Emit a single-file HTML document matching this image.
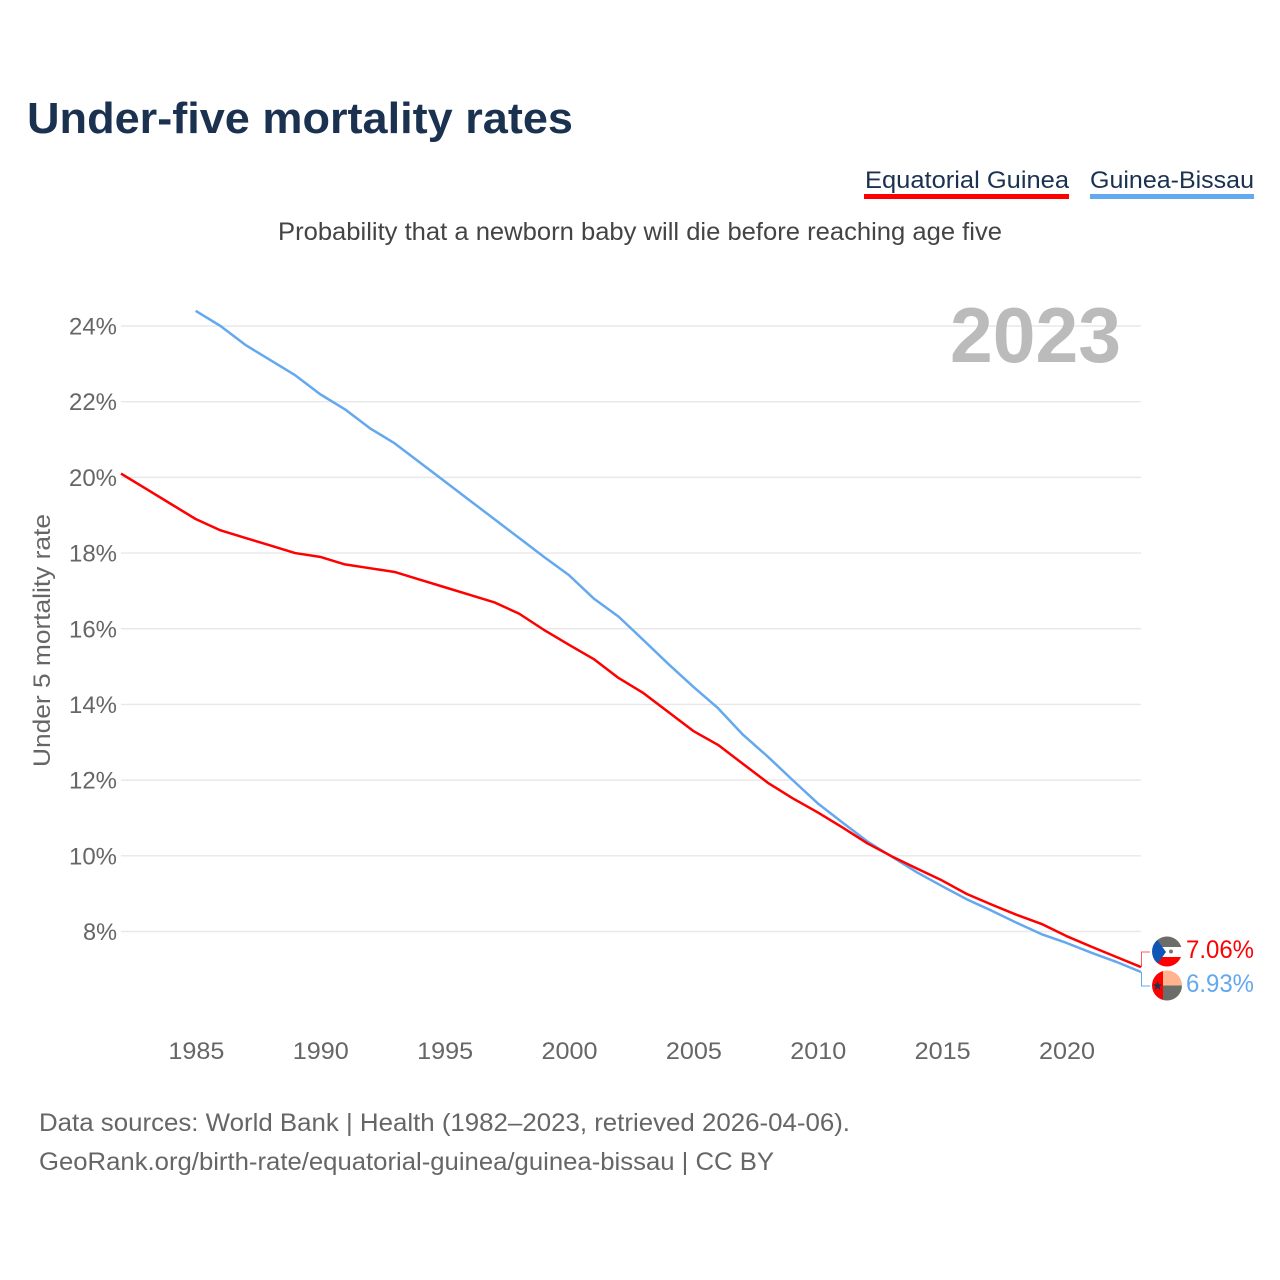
<!DOCTYPE html>
<html lang="en">
<head>
<meta charset="utf-8">
<title>Under-five mortality rates</title>
<style>
html,body{margin:0;padding:0;background:#fff;width:1280px;height:1280px;overflow:hidden}
svg{display:block}
text{font-family:"Liberation Sans",sans-serif}
</style>
</head>
<body>
<svg id="chart" xmlns="http://www.w3.org/2000/svg" width="1280" height="1280" viewBox="0 0 1280 1280">
  <rect width="1280" height="1280" fill="#fff"/>
  <text x="27" y="133" font-size="44" font-weight="700" fill="#1a3150" textLength="546" lengthAdjust="spacingAndGlyphs">Under-five mortality rates</text>
  <g>
    <g>
      <text x="865" y="188" font-size="24.5" fill="#1a3150" textLength="204" lengthAdjust="spacingAndGlyphs">Equatorial Guinea</text>
      <rect x="864" y="194" width="205" height="5" fill="#ff0000"/>
    </g>
    <g>
      <text x="1090" y="188" font-size="24.5" fill="#1a3150" textLength="164" lengthAdjust="spacingAndGlyphs">Guinea-Bissau</text>
      <rect x="1090" y="194" width="164" height="5" fill="#64a8f0"/>
    </g>
  </g>
  <text x="278" y="240" font-size="25" fill="#444" textLength="724" lengthAdjust="spacingAndGlyphs">Probability that a newborn baby will die before reaching age five</text>
  <text transform="translate(50,767) rotate(-90)" font-size="24.5" fill="#666" textLength="253" lengthAdjust="spacingAndGlyphs">Under 5 mortality rate</text>
  <g id="grid"></g>
  <g id="yticks"></g>
  <g id="xticks"></g>
  <text x="950" y="362" font-size="78" font-weight="700" fill="#bbbbbb" textLength="171" lengthAdjust="spacingAndGlyphs">2023</text>
  <g id="series"></g>
  <g id="endmarks"></g>
  <g>
    <text x="39" y="1131" font-size="25" fill="#666" textLength="811" lengthAdjust="spacingAndGlyphs">Data sources: World Bank | Health (1982–2023, retrieved 2026-04-06).</text>
    <text x="39" y="1170" font-size="25" fill="#666" textLength="735" lengthAdjust="spacingAndGlyphs">GeoRank.org/birth-rate/equatorial-guinea/guinea-bissau | CC BY</text>
  </g>
  <defs>
    <clipPath id="flag-clip-a"><circle cx="1167" cy="951.5" r="15"/></clipPath>
    <clipPath id="flag-clip-b"><circle cx="1167" cy="985.5" r="15"/></clipPath>
  </defs>
  <g clip-path="url(#flag-clip-a)">
    <rect x="1152" y="936" width="30" height="31" fill="#ffffff"/>
    <rect x="1152" y="936" width="30" height="11" fill="#6b6e68"/>
    <rect x="1152" y="957" width="30" height="10" fill="#ff0000"/>
    <polygon points="1150,930 1166,952 1150,974" fill="#0f55b5"/>
    <circle cx="1171" cy="951.5" r="2" fill="#777"/>
  </g>
  <g clip-path="url(#flag-clip-b)">
    <rect x="1152" y="970" width="11" height="31" fill="#ff0000"/>
    <rect x="1163" y="970" width="19" height="15.5" fill="#ffb38f"/>
    <rect x="1163" y="985.5" width="19" height="15.5" fill="#6b6e68"/>
    <polygon points="1157.5,981 1158.8,984.4 1162,984.4 1159.5,986.6 1160.4,990 1157.5,988 1154.6,990 1155.5,986.6 1153,984.4 1156.2,984.4" fill="#1a3150"/>
  </g>
</svg>
<script>
var years = [1982,1983,1984,1985,1986,1987,1988,1989,1990,1991,1992,1993,1994,1995,1996,1997,1998,1999,2000,2001,2002,2003,2004,2005,2006,2007,2008,2009,2010,2011,2012,2013,2014,2015,2016,2017,2018,2019,2020,2021,2022,2023];
var equatorialGuinea = [20.1,19.7,19.3,18.9,18.6,18.4,18.2,18.0,17.9,17.7,17.6,17.5,17.3,17.1,16.9,16.7,16.4,15.97,15.58,15.2,14.7,14.3,13.8,13.3,12.93,12.43,11.93,11.52,11.15,10.75,10.33,9.98,9.66,9.35,8.99,8.71,8.44,8.2,7.88,7.6,7.33,7.06];
var guineaBissau = [null,null,null,24.4,24.0,23.5,23.1,22.7,22.2,21.8,21.3,20.9,20.4,19.9,19.4,18.9,18.4,17.9,17.42,16.8,16.32,15.7,15.07,14.47,13.9,13.2,12.62,12.0,11.39,10.88,10.38,9.97,9.56,9.2,8.85,8.55,8.23,7.93,7.7,7.44,7.2,6.93];
var yTicks = [8,10,12,14,16,18,20,22,24];
var xTicks = [1985,1990,1995,2000,2005,2010,2015,2020];
var endValues = ["7.06%","6.93%"];

var NS = "http://www.w3.org/2000/svg";
function xScale(year){ return 121 + (year - 1982) * (1141 - 121) / (2023 - 1982); }
function yScale(v){ return 931.5 - (v - 8) * (931.5 - 326) / (24 - 8); }
function make(tag, attrs, parent){
  var el = document.createElementNS(NS, tag);
  for (var k in attrs) el.setAttribute(k, attrs[k]);
  parent.appendChild(el);
  return el;
}
var grid = document.getElementById("grid");
var yG = document.getElementById("yticks");
var xG = document.getElementById("xticks");
var seriesG = document.getElementById("series");
var endG = document.getElementById("endmarks");

yTicks.forEach(function(t){
  var line = make("line", {x1:121, x2:1141, y1:yScale(t), y2:yScale(t), stroke:"#e8e8e8", "stroke-width":1.4}, grid);
  
  
  var labelText = t + "%";
  var label = make("text", {x:117, y:yScale(t)+8.5, "font-size":24, fill:"#666", "text-anchor":"end", textLength:labelText.length === 2 ? 34 : 48, lengthAdjust:"spacingAndGlyphs"}, yG);
  
  
  label.textContent = labelText;
});
xTicks.forEach(function(t){
  var label = make("text", {x:xScale(t)+0.7, y:1059, "font-size":24, fill:"#666", "text-anchor":"middle", textLength:56, lengthAdjust:"spacingAndGlyphs"}, xG);
  
  
  label.textContent = t;
});
function pathFor(values){
  var d = "", started = false;
  values.forEach(function(v, i){
    if (v === null) return;
    d += (started ? "L" : "M") + xScale(years[i]).toFixed(2) + " " + yScale(v).toFixed(2);
    started = true;
  });
  return d;
}
var blueLine = make("path", {d:pathFor(guineaBissau), fill:"none", stroke:"#64a8f0", "stroke-width":2.5, "stroke-linejoin":"round"}, seriesG);


var redLine = make("path", {d:pathFor(equatorialGuinea), fill:"none", stroke:"#ff0000", "stroke-width":2.5, "stroke-linejoin":"round"}, seriesG);



var last = years.length - 1;
var redY = yScale(equatorialGuinea[last]);
var blueY = yScale(guineaBissau[last]);
var redConn = make("path", {d:"M1141.5 " + redY.toFixed(1) + "V952H1150", fill:"none", stroke:"#ff0000", "stroke-width":1, opacity:0.65}, endG);


var blueConn = make("path", {d:"M1141.5 " + blueY.toFixed(1) + "V986H1150", fill:"none", stroke:"#64a8f0", "stroke-width":1}, endG);


var redVal = make("text", {x:1186, y:958, "font-size":25, fill:"#ff0000", textLength:68, lengthAdjust:"spacingAndGlyphs"}, endG);


redVal.textContent = endValues[0];
var blueVal = make("text", {x:1186, y:992, "font-size":25, fill:"#64a8f0", textLength:68, lengthAdjust:"spacingAndGlyphs"}, endG);


blueVal.textContent = endValues[1];
</script>
</body>
</html>
